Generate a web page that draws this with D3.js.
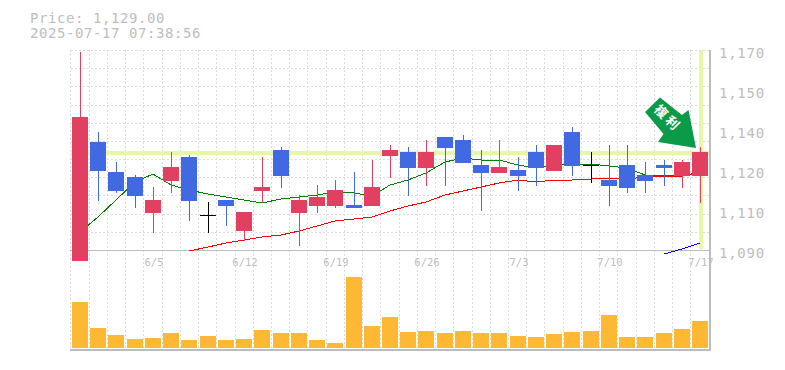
<!DOCTYPE html>
<html>
<head>
<meta charset="utf-8">
<script src="https://cdn.jsdelivr.net/npm/d3@7"></script>
<style>
    html, body { margin: 0; padding: 0; background: #fff; }
    text { font-family: "DejaVu Sans Mono", monospace; }
</style>
</head>
<body>
<div id="chart"></div>
<script>
const titleLines = ["Price: 1,129.00", "2025-07-17 07:38:56"];
const priceTicks = [1090, 1106, 1122, 1138, 1154, 1170];
const priceTickLabels = ["1,090", "1,110", "1,120", "1,140", "1,150", "1,170"];
const dateLabels = ["", "", "", "", "6/5", "", "", "", "", "6/12", "", "", "", "", "6/19", "", "", "", "", "6/26", "", "", "", "", "7/3", "", "", "", "", "7/10", "", "", "", "", "7/17"];

const opens = [1085.8, 1133.4, 1121.4, 1119.4, 1105, 1117.8, 1127.4, 1104.2, 1110.2, 1097.8, 1113.8, 1130.2, 1105, 1107.8, 1107.8, 1108.2, 1107.8, 1127.8, 1129.4, 1123, 1135.4, 1134.2, 1124.2, 1121, 1122.2, 1129.4, 1121.8, 1137.4, 1124.2, 1118.2, 1124.2, 1120.2, 1124.2, 1119.8, 1119.8];
const closes = [1143.4, 1121.8, 1113.8, 1111.8, 1110.2, 1123.4, 1109.8, 1104.2, 1107.8, 1105.4, 1115.4, 1119.8, 1110.2, 1111.4, 1114.2, 1107, 1115.4, 1130.2, 1123, 1129.4, 1131, 1125, 1121, 1123.4, 1119.8, 1123, 1132.2, 1123.8, 1124.2, 1115.8, 1115, 1117.8, 1123, 1125.4, 1129.4];
const highs = [1169.4, 1137.4, 1125.4, 1120.2, 1115.4, 1129.4, 1128.2, 1109.4, 1110.2, 1105.4, 1127.4, 1131.4, 1112.2, 1116.2, 1118.2, 1121.4, 1126.2, 1132.2, 1131.4, 1134.2, 1135.4, 1136.2, 1130.2, 1134.2, 1127.4, 1132.2, 1132.2, 1139.4, 1129.4, 1132.2, 1132.2, 1125.4, 1126.2, 1126.2, 1131.4];
const lows = [1085.8, 1109.8, 1113, 1107, 1097, 1113, 1101.8, 1097, 1099.8, 1093.8, 1109, 1115, 1091.8, 1105, 1107, 1107, 1107.8, 1119, 1111.8, 1115.8, 1115.8, 1125, 1105.8, 1121, 1113.8, 1115.8, 1121.8, 1119.8, 1117, 1107.8, 1113, 1113, 1115.8, 1115, 1109];
const volumes = [460, 200, 130, 90, 100, 150, 80, 120, 80, 90, 180, 150, 150, 80, 50, 710, 220, 310, 160, 170, 150, 170, 150, 150, 120, 110, 140, 160, 170, 330, 110, 110, 150, 190, 270];

const maShort = [1097.4, 1103.4, 1110.2, 1117.4, 1120.6, 1116.2, 1114.2, 1112.6, 1111.4, 1110.2, 1109, 1110.6, 1111.4, 1112.2, 1113.4, 1113, 1111.8, 1116.2, 1118.2, 1121, 1125.4, 1127, 1126.2, 1126.2, 1124.2, 1123, 1124.2, 1124.6, 1124.6, 1123.8, 1123, 1120.2, 1119.8, 1120.2, 1121];
const maMid = [null, null, null, null, null, null, 1089.8, 1091.4, 1093, 1094.2, 1095.4, 1096.2, 1097.8, 1099.8, 1101.8, 1102.6, 1103.4, 1105.8, 1107.8, 1109.4, 1112.2, 1113.8, 1115.4, 1117, 1118.2, 1117.4, 1118.2, 1118.2, 1118.6, 1119, 1118.6, 1119.4, 1119.8, 1119.8, 1121];
const maLong = new Array(32).fill(null).concat([1088.6, 1090.6, 1093]);

const lastPrice = 1129;
const width = 785, height = 370;
const upColor = "#e24060", downColor = "#4169e1", flatColor = "#000";
const labelColor = "#bdbdbd", axisColor = "#bdbdbd", gridColor = "#dcdcdc", markerColor = "#e6f7a8";
const barWidth = 16;

const days = d3.range(opens.length);

const xScale = d3.scaleBand()
    .domain(days)
    .range([70.9, 709.1])
    .paddingInner(0.1226)
    .paddingOuter(0.0613);
const xCenter = function(i) { return Math.round(xScale(i) + xScale.bandwidth() / 2); };
const xEdge = function(i) { return Math.floor(xScale(i) - xScale.step() * 0.0613) + 0.5; };

const yPrice = d3.scaleLinear().domain([1090, 1170]).range([250.5, 50.5]);
const yVolume = d3.scaleLinear().domain([0, 710]).range([348, 277]);

const svg = d3.select("#chart")
    .append("svg")
        .attr("width", width)
        .attr("height", height)
        .style("display", "block");

// GRID
const gridRows = d3.range(0, 11).map(function(i) { return 50.5 + i * 200 / 11; });
svg.append("g").selectAll("line")
    .data(gridRows)
    .enter()
    .append("line")
        .attr("x1", 71)
        .attr("x2", 710)
        .attr("y1", function(d) { return Math.round(d - 0.5) + 0.5; })
        .attr("y2", function(d) { return Math.round(d - 0.5) + 0.5; })
        .attr("stroke", gridColor)
        .attr("stroke-dasharray", "2,2");
svg.append("g").selectAll("line")
    .data(days)
    .enter()
    .append("line")
        .attr("x1", xEdge)
        .attr("x2", xEdge)
        .attr("y1", 50)
        .attr("y2", 350)
        .attr("stroke", gridColor)
        .attr("stroke-dasharray", "2,2");

// MARKER LINES FOR THE LAST PRICE
svg.append("line")
    .attr("x1", 71)
    .attr("x2", 709)
    .attr("y1", Math.round(yPrice(lastPrice)))
    .attr("y2", Math.round(yPrice(lastPrice)))
    .attr("stroke", markerColor)
    .attr("stroke-width", 4);
svg.append("line")
    .attr("x1", xCenter(days.length - 1) + 1)
    .attr("x2", xCenter(days.length - 1) + 1)
    .attr("y1", 50)
    .attr("y2", 249)
    .attr("stroke", markerColor)
    .attr("stroke-width", 4);

// FRAME
svg.append("line").attr("x1", 70).attr("x2", 711).attr("y1", 250.5).attr("y2", 250.5).attr("stroke", axisColor);
svg.append("line").attr("x1", 70).attr("x2", 711).attr("y1", 350).attr("y2", 350).attr("stroke", axisColor).attr("stroke-width", 2);
svg.append("line").attr("x1", 710).attr("x2", 710).attr("y1", 50).attr("y2", 351).attr("stroke", axisColor).attr("stroke-width", 2);

// MOVING AVERAGES
const maLine = d3.line()
    .defined(function(d) { return d !== null; })
    .x(function(d, i) { return xCenter(i); })
    .y(function(d) { return yPrice(d); });
[[maShort, "#008000"], [maMid, "#ff0000"], [maLong, "#0000ff"]].forEach(function(ma) {
    svg.append("path")
        .attr("d", maLine(ma[0]))
        .attr("fill", "none")
        .attr("stroke", ma[1])
        .attr("stroke-width", 1)
        .attr("shape-rendering", "crispEdges");
});

// CANDLES
const candleColor = function(i) {
    if (closes[i] > opens[i]) return upColor;
    if (closes[i] < opens[i]) return downColor;
    return flatColor;
};
svg.append("g").selectAll("line")
    .data(days)
    .enter()
    .append("line")
        .attr("x1", function(i) { return xCenter(i) + 0.5; })
        .attr("x2", function(i) { return xCenter(i) + 0.5; })
        .attr("y1", function(i) { return yPrice(highs[i]); })
        .attr("y2", function(i) { return yPrice(lows[i]); })
        .attr("stroke", candleColor)
        .attr("stroke-width", 1);
svg.append("g").selectAll("rect")
    .data(days)
    .enter()
    .append("rect")
        .attr("x", function(i) { return xCenter(i) - barWidth / 2; })
        .attr("y", function(i) { return Math.round(yPrice(Math.max(opens[i], closes[i]))); })
        .attr("width", barWidth)
        .attr("height", function(i) { return Math.max(1, Math.round(Math.abs(opens[i] - closes[i]) * 2.5)); })
        .attr("fill", candleColor);

// VOLUME
svg.append("g").selectAll("rect")
    .data(days)
    .enter()
    .append("rect")
        .attr("x", function(i) { return xCenter(i) - barWidth / 2; })
        .attr("y", function(i) { return yVolume(volumes[i]); })
        .attr("width", barWidth)
        .attr("height", function(i) { return yVolume(0) - yVolume(volumes[i]); })
        .attr("fill", "#ffb833");

// ARROW, ANCHORED ON THE LAST CANDLE
const arrow = svg.append("g")
    .attr("transform", `translate(${xCenter(days.length - 1) - 4},${yPrice(highs[days.length - 1]) + 1})`);
arrow.append("polygon")
    .attr("points", "0,0 -7.5,-38 -14,-33 -36,-50.5 -51,-36 -32.5,-14 -38,-6")
    .attr("fill", "#0a9a48");
arrow.append("text")
    .attr("transform", "translate(-29,-29) rotate(45)")
    .attr("text-anchor", "middle")
    .attr("dominant-baseline", "middle")
    .attr("font-size", 13)
    .attr("font-weight", "bold")
    .attr("letter-spacing", 3)
    .style("font-family", "'Noto Sans CJK JP'")
    .attr("fill", "#fff")
    .text("複利");

// LABELS
svg.append("g").selectAll("text")
    .data(priceTicks)
    .enter()
    .append("text")
        .attr("x", 719)
        .attr("y", function(d) { return yPrice(d) + 7.5; })
        .attr("font-size", 14)
        .attr("letter-spacing", 0.75)
        .attr("fill", labelColor)
        .text(function(d, i) { return priceTickLabels[i]; });
svg.append("g").selectAll("text")
    .data(days.filter(function(i) { return dateLabels[i] !== ""; }))
    .enter()
    .append("text")
        .attr("x", function(i) { return xCenter(i) + 1; })
        .attr("y", 266)
        .attr("text-anchor", "middle")
        .attr("font-size", 10.5)
        .attr("fill", labelColor)
        .text(function(i) { return dateLabels[i]; });
svg.append("g").selectAll("text")
    .data(titleLines)
    .enter()
    .append("text")
        .attr("x", 30)
        .attr("y", function(d, i) { return 23 + i * 15; })
        .attr("font-size", 14)
        .attr("letter-spacing", 0.57)
        .attr("fill", labelColor)
        .text(function(d) { return d; });
</script>
</body>
</html>
